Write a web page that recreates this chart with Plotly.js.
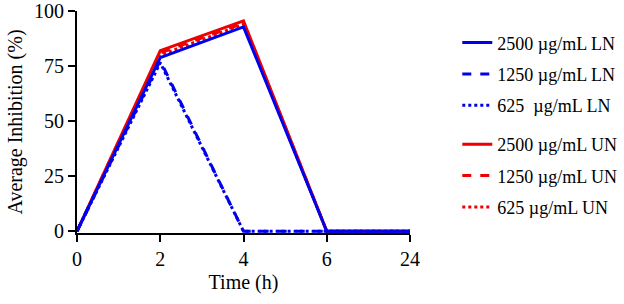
<!DOCTYPE html>
<html><head><meta charset="utf-8">
<script src="https://cdn.plot.ly/plotly-3.0.1.min.js"></script>
<style>body{margin:0;padding:0;background:#fff}#chart{width:624px;height:304px}</style>
</head><body><div id="chart"></div>
<script>
const timeLabels = ['0','2','4','6','24'];
const ln2500 = [0, 78.8, 92.8, 0, 0];
const ln1250 = [0, 77.5, 0, 0, 0];
const ln625  = [0, 76.5, 0, 0, 0];
const un2500 = [0, 82, 95.5, 0, 0];
const un1250 = [0, 81, 94.5, 0, 0];
const un625  = [0, 80, 94, 0, 0];
const names = ['2500 µg/mL LN','1250 µg/mL LN','625  µg/mL LN','2500 µg/mL UN','1250 µg/mL UN','625 µg/mL UN'];

const series = [ln2500, ln1250, ln625, un2500, un1250, un625];
const colors = ['#0000ee','#0000ee','#0000ee','#ee0000','#ee0000','#ee0000'];
const dashes = ['solid','dash','dot','solid','dash','dot'];
const order = [3,4,5,0,1,2];
const traces = order.map(i => ({
  type:'scatter', mode:'lines', x: timeLabels, y: series[i], name: names[i],
  line:{color:colors[i], width:3, dash:dashes[i]},
  legend: i < 3 ? 'legend' : 'legend2',
  legendgroup: 'g'+i, legendrank: i
}));

const FAM = 'Liberation Serif, Times New Roman, serif';
const f = (s) => ({family:FAM, color:'#000', size:s});
const legendCommon = {font:f(18), tracegroupgap:5, bgcolor:'rgba(0,0,0,0)', xanchor:'left', yanchor:'top', traceorder:'grouped'};
const layout = {
  width:624, height:304,
  margin:{l:77, r:214, t:11, b:71, autoexpand:false},
  paper_bgcolor:'#fff', plot_bgcolor:'#fff',
  font:f(20),
  showlegend:true,
  legend:{...legendCommon, x:1.142, y:0.94},
  legend2:{...legendCommon, x:1.142, y:0.482},
  xaxis:{type:'category', range:[0,4], showgrid:false, zeroline:false, automargin:false,
    showline:true, linecolor:'#000', linewidth:2, ticks:'outside', ticklen:7, tickwidth:2, tickcolor:'#000',
    tickfont:f(20), title:{text:'Time (h)', font:f(20), standoff:6}},
  yaxis:{range:[-0.8,100], showgrid:false, zeroline:false, automargin:false, tickvals:[0,25,50,75,100],
    showline:true, linecolor:'#000', linewidth:2, ticks:'outside', ticklen:7, tickwidth:2, tickcolor:'#000',
    tickfont:f(20), title:{text:'Average Inhibition (%)', font:f(20), standoff:6}}
};
Plotly.newPlot('chart', traces, layout, {displayModeBar:false, staticPlot:true});
</script></body></html>
